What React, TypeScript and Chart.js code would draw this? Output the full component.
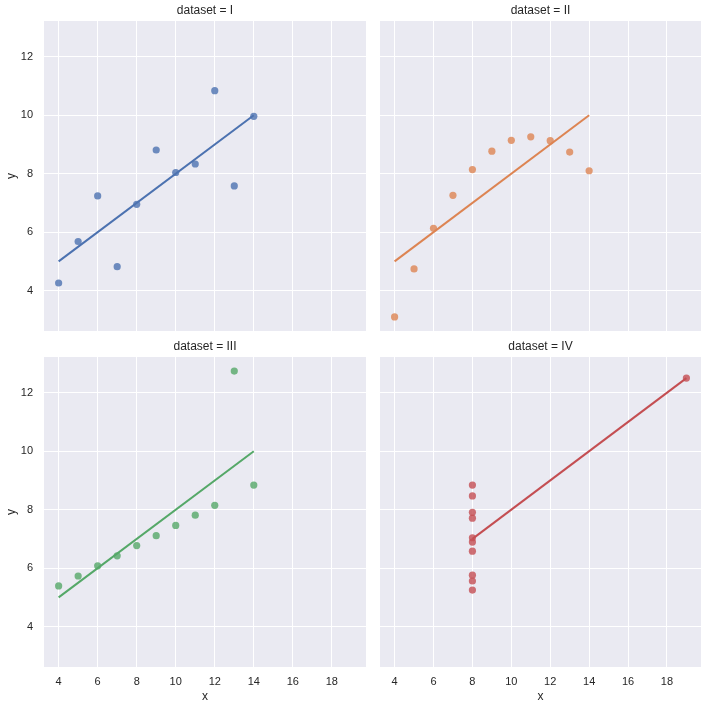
import React, { useEffect, useRef } from 'react';
import { Chart, registerables } from 'chart.js';
Chart.register(...registerables);

const x123 = [10, 8, 13, 9, 11, 14, 6, 4, 12, 7, 5];
const yI = [8.04, 6.95, 7.58, 8.81, 8.33, 9.96, 7.24, 4.26, 10.84, 4.82, 5.68];
const yII = [9.14, 8.14, 8.74, 8.77, 9.26, 8.1, 6.13, 3.1, 9.13, 7.26, 4.74];
const yIII = [7.46, 6.77, 12.74, 7.11, 7.81, 8.84, 6.08, 5.39, 8.15, 6.42, 5.73];
const xIV = [8, 8, 8, 8, 8, 8, 8, 19, 8, 8, 8];
const yIV = [6.58, 5.76, 7.71, 8.84, 8.47, 7.04, 5.25, 12.5, 5.56, 7.91, 6.89];

// fitted regression line endpoints [x0, y0, x1, y1]
const fitI = [4, 5.0, 14, 10.0];
const fitII = [4, 5.0, 14, 10.0];
const fitIII = [4, 5.0, 14, 10.0];
const fitIV = [8, 7.0, 19, 12.5];

const panelNames = ['I', 'II', 'III', 'IV'];
const panelColors = ['76,114,176', '221,132,82', '85,168,104', '196,78,82'];

const xTicks = [4, 6, 8, 10, 12, 14, 16, 18];
const yTicks = [4, 6, 8, 10, 12];
const xMin = 3.25, xMax = 19.75;
const yMin = 2.618, yMax = 13.222;

const panelX = [x123, x123, x123, xIV];
const panelY = [yI, yII, yIII, yIV];
const panelFit = [fitI, fitII, fitIII, fitIV];

const FONT = '"Liberation Sans", Arial, sans-serif';
const TEXT = '#262626';

function Panel({ idx }: { idx: number }) {
  const ref = useRef<HTMLCanvasElement>(null);
  useEffect(() => {
    const col = idx % 2;
    const row = Math.floor(idx / 2);
    const left = col ? 380 : 44;
    const right = col ? 701 : 366;
    const top = row ? 357 : 21;
    const bottom = row ? 667 : 331;
    const yW = col === 0 ? 44 : 0;
    const xH = row === 1 ? 41 : 0;
    const color = panelColors[idx];
    const fit = panelFit[idx];
    const pts = panelX[idx].map((x, i) => ({ x, y: panelY[idx][i] }));
    const title = 'dataset = ' + panelNames[idx];

    const bgPlugin = {
      id: 'bg',
      beforeDraw(chart: any) {
        const { ctx, chartArea: a } = chart;
        ctx.save();
        ctx.fillStyle = '#EAEAF2';
        ctx.fillRect(a.left, a.top, a.right - a.left, a.bottom - a.top);
        ctx.restore();
      },
      afterDraw(chart: any) {
        const { ctx, chartArea: a } = chart;
        ctx.save();
        ctx.fillStyle = TEXT;
        ctx.font = '12px ' + FONT;
        ctx.textAlign = 'center';
        ctx.textBaseline = 'alphabetic';
        ctx.fillText(title, (a.left + a.right) / 2, a.top - 7);
        ctx.restore();
      },
    };

    const chart = new Chart(ref.current!, {
      type: 'scatter',
      data: {
        datasets: [
          {
            data: [{ x: fit[0], y: fit[1] }, { x: fit[2], y: fit[3] }],
            showLine: true,
            borderColor: `rgb(${color})`,
            borderWidth: 2,
            pointRadius: 0,
            fill: false,
          } as any,
          {
            data: pts,
            pointRadius: 3.6,
            pointBorderWidth: 0,
            pointBackgroundColor: `rgba(${color},0.8)`,
            pointBorderColor: `rgba(${color},0.8)`,
            showLine: false,
          },
        ],
      },
      options: {
        responsive: false,
        animation: false,
        devicePixelRatio: 1,
        events: [],
        layout: {
          padding: {
            left: left - yW,
            right: 708 - right,
            top: top,
            bottom: 708 - bottom - xH,
          },
        },
        plugins: { legend: { display: false }, tooltip: { enabled: false } },
        scales: {
          x: {
            type: 'linear',
            min: xMin,
            max: xMax,
            grid: { color: '#ffffff', lineWidth: 1, drawTicks: false },
            border: { display: false },
            ticks: {
              display: row === 1,
              color: TEXT,
              font: { family: FONT, size: 11 },
              padding: 8,
              maxRotation: 0,
            },
            title: {
              display: row === 1,
              text: 'x',
              color: TEXT,
              font: { family: FONT, size: 12 },
              padding: { top: 0, bottom: 4 },
            },
            afterBuildTicks: (s: any) => {
              s.ticks = xTicks.map((v) => ({ value: v }));
            },
            afterFit: (s: any) => {
              s.height = xH;
            },
          },
          y: {
            type: 'linear',
            min: yMin,
            max: yMax,
            grid: { color: '#ffffff', lineWidth: 1, drawTicks: false },
            border: { display: false },
            ticks: {
              display: col === 0,
              color: TEXT,
              font: { family: FONT, size: 11 },
              padding: 11,
            },
            title: {
              display: col === 0,
              text: 'y',
              color: TEXT,
              font: { family: FONT, size: 12 },
              padding: { top: 4, bottom: 0 },
            },
            afterBuildTicks: (s: any) => {
              s.ticks = yTicks.map((v) => ({ value: v }));
            },
            afterFit: (s: any) => {
              s.width = yW;
            },
          },
        },
      } as any,
      plugins: [bgPlugin],
    });
    return () => chart.destroy();
  }, [idx]);
  return (
    <canvas
      ref={ref}
      width={708}
      height={708}
      style={{ position: 'absolute', left: 0, top: 0, width: 708, height: 708 }}
    />
  );
}

export default function App() {
  return (
    <div
      style={{
        position: 'fixed',
        left: 0,
        top: 0,
        width: 708,
        height: 708,
        background: '#ffffff',
      }}
    >
      {[0, 1, 2, 3].map((i) => (
        <Panel key={i} idx={i} />
      ))}
    </div>
  );
}
